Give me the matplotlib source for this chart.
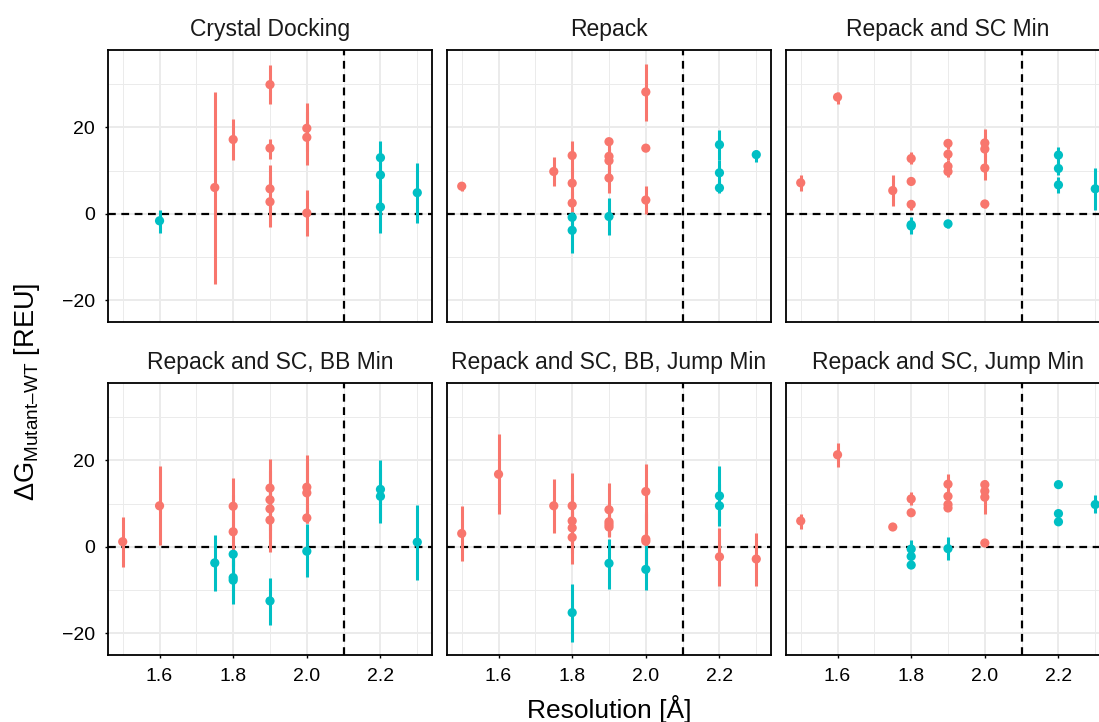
import matplotlib.pyplot as plt
from matplotlib.ticker import MultipleLocator

plt.rcParams['font.family'] = ['Liberation Sans', 'DejaVu Sans']
plt.rcParams['mathtext.fontset'] = 'custom'
plt.rcParams['mathtext.rm'] = 'Liberation Sans'

# facet titles
titles = ["Crystal Docking", "Repack", "Repack and SC Min",
          "Repack and SC, BB Min", "Repack and SC, BB, Jump Min", "Repack and SC, Jump Min"]

# Crystal Docking
res1 = [1.6, 1.75, 1.8, 1.9, 1.9, 1.9, 1.9, 2.0, 2.0, 2.0, 2.2, 2.2, 2.2, 2.3]
dg1 = [-1.6, 6.1, 17.2, 29.9, 15.2, 5.8, 2.8, 19.8, 17.7, 0.2, 13.0, 9.0, 1.6, 4.9]
lo1 = [-4.4, -16.2, 12.5, 25.5, 12.8, 0.5, -3.1, 14.5, 11.2, -5.2, 9.5, 3.0, -4.5, -2.1]
hi1 = [1.0, 28.3, 21.9, 34.4, 17.3, 11.2, 8.5, 25.6, 23.5, 5.5, 16.8, 14.5, 7.0, 11.8]
grp1 = ["b", "a", "a", "a", "a", "a", "a", "a", "a", "a", "b", "b", "b", "b"]

# Repack
res2 = [1.5, 1.75, 1.8, 1.8, 1.8, 1.8, 1.8, 1.9, 1.9, 1.9, 1.9, 1.9, 2.0, 2.0, 2.0, 2.2, 2.2, 2.2, 2.3]
dg2 = [6.4, 9.8, 13.5, 7.1, 2.5, -0.8, -3.8, 16.7, 13.3, 12.3, 8.3, -0.6, 28.2, 15.2, 3.2, 16.0, 9.5, 6.0, 13.7]
lo2 = [5.4, 6.4, 9.5, 3.5, 0.4, -3.0, -9.1, 15.5, 10.0, 9.0, 4.8, -4.8, 21.5, 14.8, 0.0, 12.5, 6.5, 4.8, 12.1]
hi2 = [7.3, 13.1, 16.9, 10.5, 5.0, 0.4, 0.0, 17.5, 16.0, 15.0, 11.5, 3.6, 34.6, 15.6, 6.5, 19.4, 12.5, 7.5, 14.8]
grp2 = ["a", "a", "a", "a", "a", "b", "b", "a", "a", "a", "a", "b", "a", "a", "a", "b", "b", "b", "b"]

# Repack and SC Min
res3 = [1.5, 1.6, 1.75, 1.8, 1.8, 1.8, 1.8, 1.8, 1.9, 1.9, 1.9, 1.9, 1.9, 2.0, 2.0, 2.0, 2.0, 2.2, 2.2, 2.2, 2.3]
dg3 = [7.2, 27.0, 5.4, 12.8, 7.5, 2.2, -2.5, -2.8, 16.3, 13.8, 11.0, 9.8, -2.3, 16.4, 15.0, 10.6, 2.3, 13.6, 10.5, 6.7, 5.8]
lo3 = [5.2, 25.5, 1.8, 11.5, 6.8, 1.0, -4.0, -4.6, 15.0, 12.5, 9.5, 8.5, -3.3, 13.5, 12.0, 7.8, 1.3, 11.5, 9.0, 4.8, 1.0]
hi3 = [9.1, 28.3, 9.1, 14.2, 8.2, 3.2, -0.8, -1.5, 17.3, 15.0, 12.5, 11.0, -1.3, 19.6, 18.0, 13.4, 3.3, 15.4, 12.0, 8.5, 10.6]
grp3 = ["a", "a", "a", "a", "a", "a", "b", "b", "a", "a", "a", "a", "b", "a", "a", "a", "a", "b", "b", "b", "b"]

# Repack and SC, BB Min
res4 = [1.5, 1.6, 1.75, 1.8, 1.8, 1.8, 1.8, 1.8, 1.9, 1.9, 1.9, 1.9, 1.9, 2.0, 2.0, 2.0, 2.0, 2.2, 2.2, 2.3]
dg4 = [1.2, 9.5, -3.7, 9.4, 3.5, -1.7, -7.1, -7.7, 13.6, 10.9, 8.8, 6.2, -12.5, 13.8, 12.5, 6.7, -1.0, 13.3, 11.7, 1.1]
lo4 = [-4.6, 0.4, -10.2, 2.8, -5.4, -4.5, -12.0, -13.2, 7.0, 4.0, 2.0, -1.2, -18.1, 6.5, 5.5, 5.5, -6.9, 6.5, 5.5, -7.7]
hi4 = [6.9, 18.7, 2.7, 16.0, 12.0, -0.8, -2.5, -3.0, 20.4, 17.5, 15.5, 13.0, -7.1, 21.2, 19.5, 9.0, 5.2, 20.0, 18.0, 9.6]
grp4 = ["a", "a", "b", "a", "a", "b", "b", "b", "a", "a", "a", "a", "b", "a", "a", "a", "b", "b", "b", "b"]

# Repack and SC, BB, Jump Min
res5 = [1.5, 1.6, 1.75, 1.8, 1.8, 1.8, 1.8, 1.8, 1.9, 1.9, 1.9, 1.9, 1.9, 2.0, 2.0, 2.0, 2.0, 2.2, 2.2, 2.2, 2.3]
dg5 = [3.1, 16.8, 9.5, 9.5, 6.0, 4.4, 2.2, -15.2, 8.6, 5.8, 5.2, 4.6, -3.8, 12.8, 1.8, 1.3, -5.2, 11.8, 9.5, -2.3, -2.8]
lo5 = [-3.2, 7.5, 3.3, 2.0, 0.0, -1.5, -4.0, -21.9, 2.5, 3.0, 2.3, 2.5, -9.8, 6.5, -4.0, -6.5, -10.0, 5.5, 4.8, -9.1, -9.1]
hi5 = [9.4, 26.0, 15.6, 17.1, 12.0, 10.0, 8.0, -8.6, 14.8, 9.0, 8.0, 7.0, 1.9, 19.2, 7.5, 8.0, 0.4, 18.7, 14.5, 4.4, 3.3]
grp5 = ["a", "a", "a", "a", "a", "a", "a", "b", "a", "a", "a", "a", "b", "a", "a", "a", "b", "b", "b", "a", "a"]

# Repack and SC, Jump Min
res6 = [1.5, 1.6, 1.75, 1.8, 1.8, 1.8, 1.8, 1.8, 1.9, 1.9, 1.9, 1.9, 1.9, 2.0, 2.0, 2.0, 2.0, 2.2, 2.2, 2.2, 2.3]
dg6 = [6.0, 21.3, 4.6, 11.1, 7.9, -0.5, -2.2, -4.2, 14.5, 11.7, 9.8, 9.0, -0.4, 14.4, 12.9, 11.5, 0.9, 14.4, 7.7, 5.8, 9.8]
lo6 = [4.2, 18.5, 4.6, 9.8, 7.9, -1.5, -3.0, -4.2, 12.5, 10.0, 8.5, 8.5, -3.1, 13.0, 11.0, 7.7, 0.9, 14.4, 7.7, 5.8, 7.8]
hi6 = [7.5, 24.1, 4.6, 12.7, 7.9, 1.7, -1.5, -4.2, 16.9, 13.5, 11.0, 9.5, 2.2, 15.4, 14.5, 15.0, 0.9, 14.4, 7.7, 5.8, 11.9]
grp6 = ["a", "a", "a", "a", "a", "b", "b", "b", "a", "a", "a", "a", "b", "a", "a", "a", "a", "b", "b", "b", "b"]

data = [(res1, dg1, lo1, hi1, grp1), (res2, dg2, lo2, hi2, grp2), (res3, dg3, lo3, hi3, grp3),
        (res4, dg4, lo4, hi4, grp4), (res5, dg5, lo5, hi5, grp5), (res6, dg6, lo6, hi6, grp6)]

colors = {"a": "#F8766D", "b": "#00BFC4"}

W, H = 1099, 722
fig = plt.figure(figsize=(W / 100, H / 100), dpi=100)

lefts = [108, 447, 786]
tops = [50, 383]
pw, ph = 324, 272

for i, (res, dg, lo, hi, grp) in enumerate(data):
    row, col = i // 3, i % 3
    ax = fig.add_axes([lefts[col] / W, 1 - (tops[row] + ph) / H, pw / W, ph / H])
    ax.set_xlim(1.46, 2.34)
    ax.set_ylim(-25, 37.9)
    ax.xaxis.set_major_locator(MultipleLocator(0.2))
    ax.xaxis.set_minor_locator(MultipleLocator(0.1))
    ax.yaxis.set_major_locator(MultipleLocator(20))
    ax.yaxis.set_minor_locator(MultipleLocator(10))
    ax.grid(which="major", color="#EBEBEB", lw=1.4, zorder=0)
    ax.grid(which="minor", color="#EBEBEB", lw=0.7, zorder=0)
    ax.set_axisbelow(True)
    for s in ax.spines.values():
        s.set_linewidth(1.3)
        s.set_color("black")
    ax.axhline(0, color="black", lw=1.6, ls=(0, (3.5, 2.5)), zorder=1)
    ax.axvline(2.1, color="black", lw=1.6, ls=(0, (3.5, 2.5)), zorder=1)
    cols = [colors[g] for g in grp]
    ax.vlines(res, lo, hi, colors=cols, lw=2.2, zorder=2)
    ax.scatter(res, dg, c=cols, s=44, linewidths=0, zorder=3)
    ax.set_title(titles[i], fontsize=16.5, pad=10, color="#1a1a1a")
    ax.tick_params(which="minor", length=0)
    ax.tick_params(which="major", length=2.5, width=1, pad=7, labelsize=14, colors="black")
    if col != 0:
        ax.tick_params(axis="y", left=False, labelleft=False)
    if row != 1:
        ax.tick_params(axis="x", bottom=False, labelbottom=False)

fig.text(27 / W, 1 - 392 / H, "$\\Delta$G$_{\\mathregular{Mutant\u2013WT}}$ [REU]", rotation=90,
         ha="center", va="center", fontsize=19.5)
fig.text(609 / W, 1 - 718 / H, "Resolution [Å]", ha="center", va="baseline", fontsize=19)

fig.savefig("out.png", dpi=100)
